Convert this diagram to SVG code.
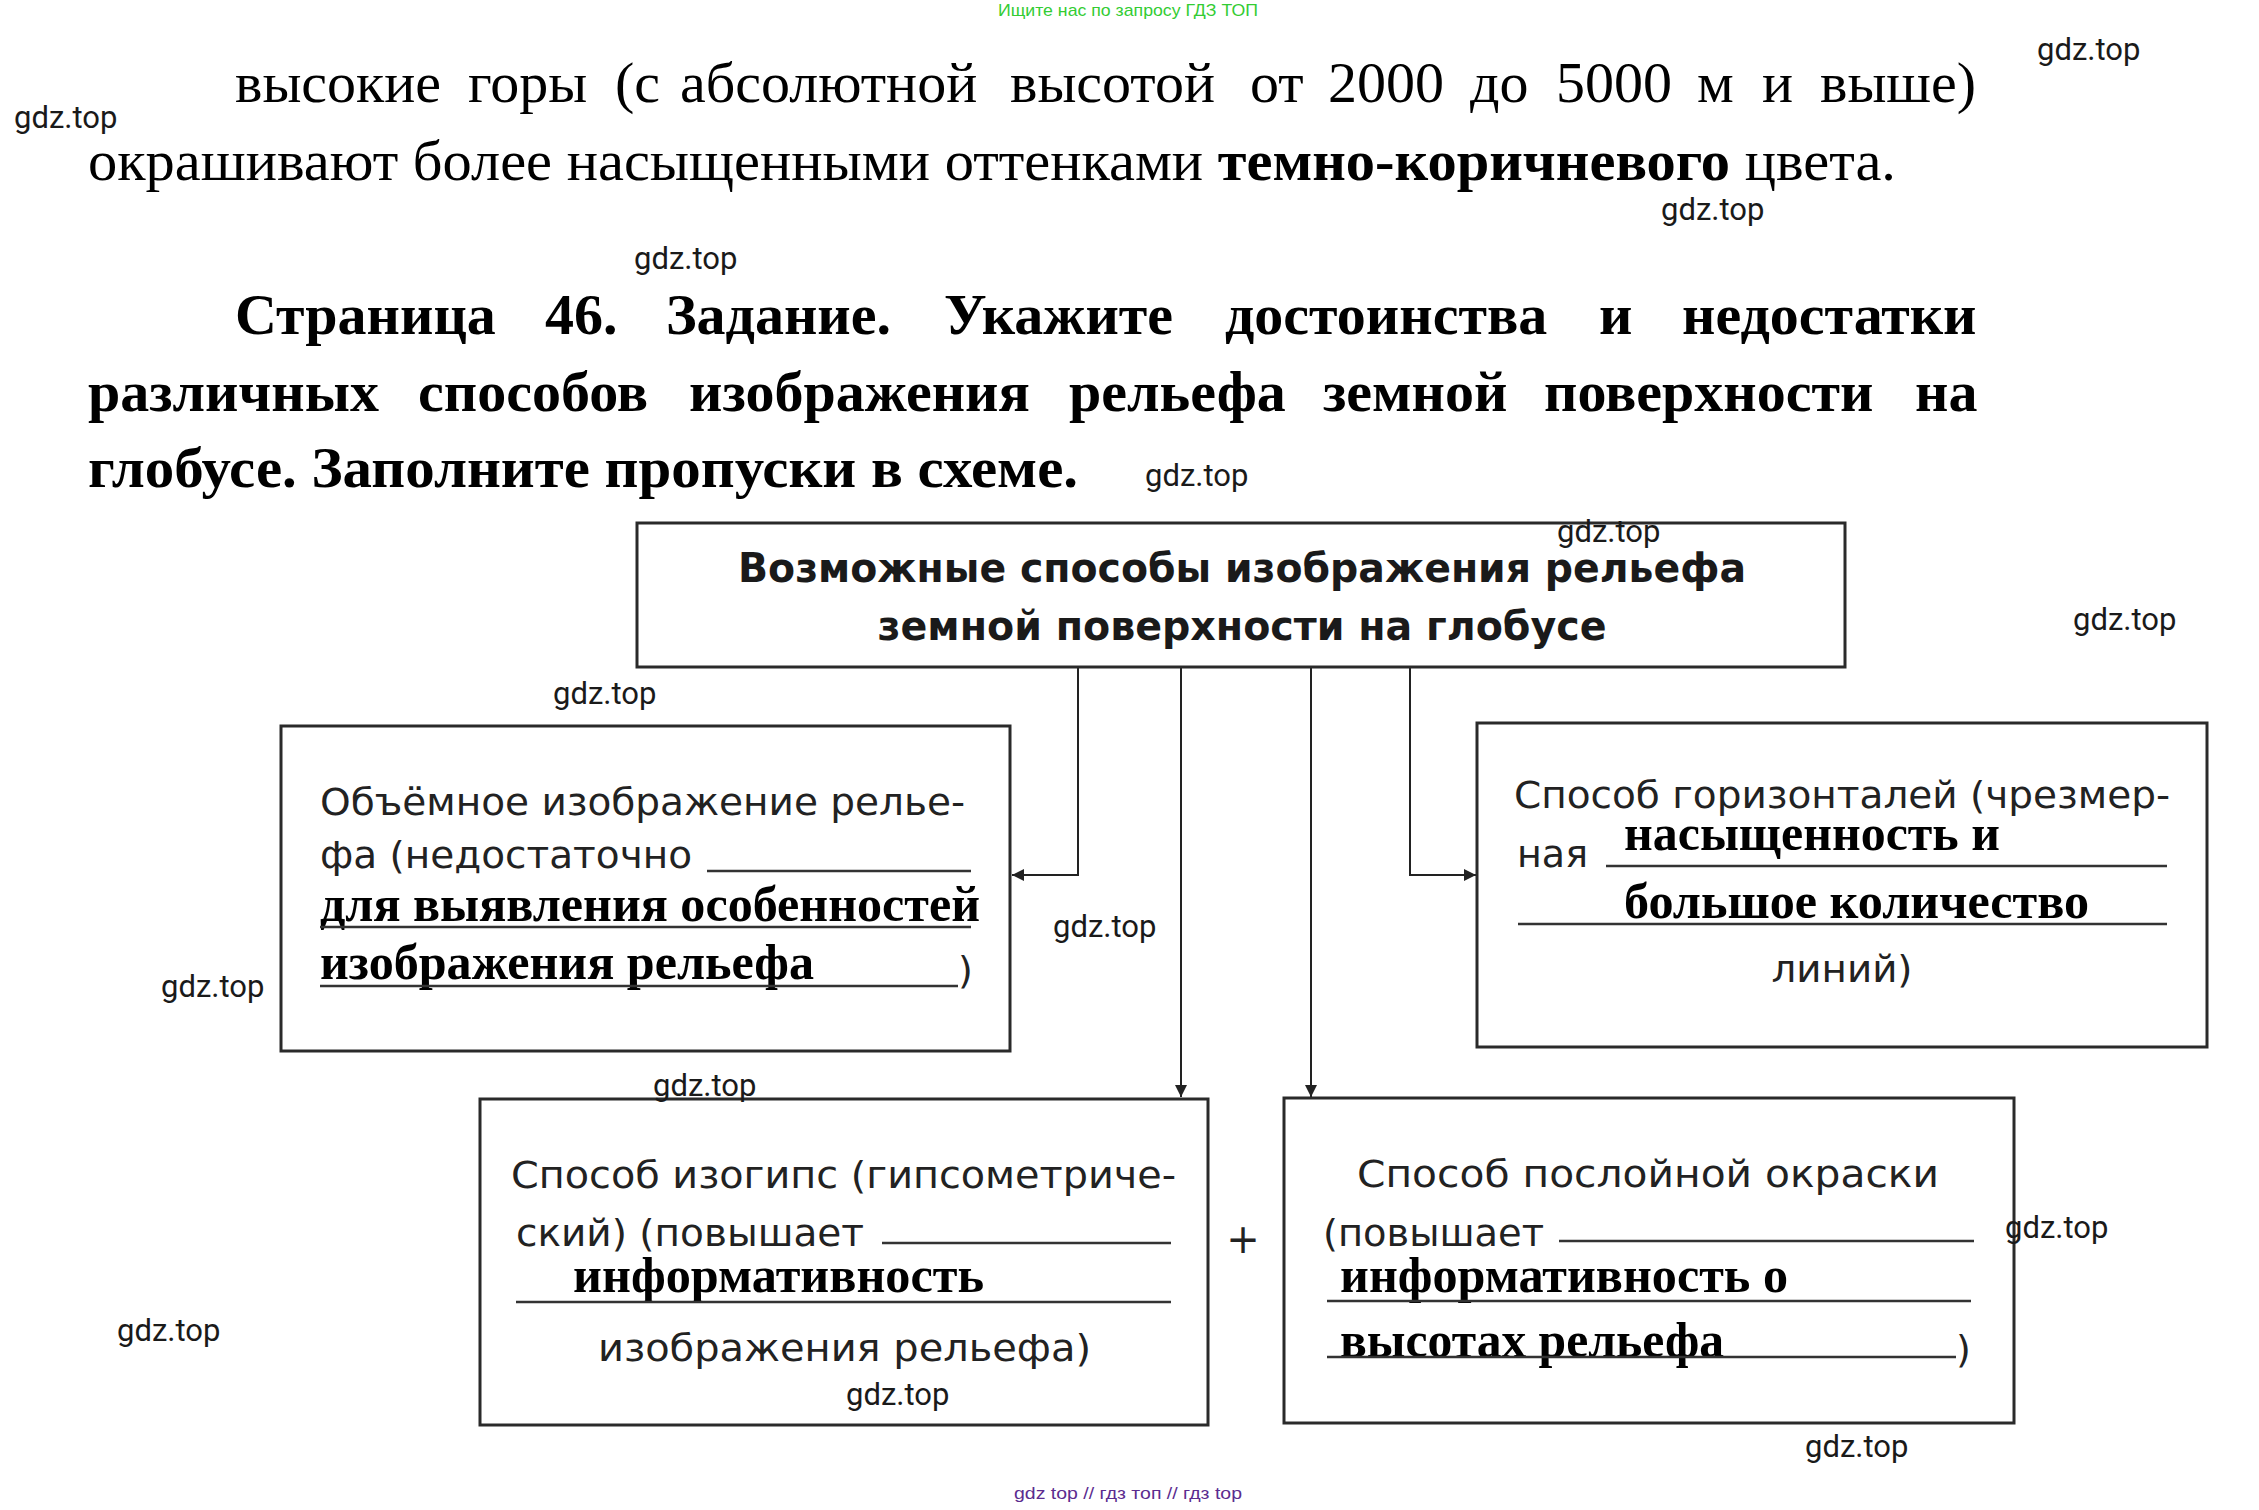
<svg xmlns="http://www.w3.org/2000/svg" width="2259" height="1510" viewBox="0 0 2259 1510">
<style>
.body{font-family:"Liberation Serif","Times New Roman",serif;font-size:58px;fill:#000}
.head{font-family:"Liberation Serif","Times New Roman",serif;font-size:58px;font-weight:bold;fill:#000}
.wm{font-family:Roboto,"Liberation Sans",sans-serif;font-size:31px;fill:#1a1a1a}
.box{fill:#fff;stroke:#2a2a2a;stroke-width:3}
.title{font-family:"DejaVu Sans","Liberation Sans",sans-serif;font-size:40px;font-weight:bold;fill:#1a1a1a}
.lbl{font-family:"DejaVu Sans","Liberation Sans",sans-serif;font-size:38px;fill:#222}
.ans{font-family:"Liberation Serif","Times New Roman",serif;font-size:50px;font-weight:bold;fill:#000}
.ul{stroke:#333;stroke-width:2.5;fill:none}
.conn{stroke:#222;stroke-width:2;fill:none}
</style>
<defs>
<marker id="arr" viewBox="0 0 10 10" refX="10" refY="5" markerWidth="16" markerHeight="12" markerUnits="userSpaceOnUse" orient="auto">
<path d="M0,0 L10,5 L0,10 z" fill="#222"/>
</marker>
</defs>
<rect width="2259" height="1510" fill="#fff"/>

<text x="1128" y="16" font-family="'Liberation Sans',sans-serif" font-size="17" fill="#33cc33" text-anchor="middle" textLength="260" lengthAdjust="spacingAndGlyphs">Ищите нас по запросу ГДЗ ТОП</text>

<g id="paragraph">
<text class="body" y="102"><tspan x="235">высокие</tspan><tspan x="468">горы</tspan><tspan x="615">(с</tspan><tspan x="680">абсолютной</tspan><tspan x="1010">высотой</tspan><tspan x="1250">от</tspan><tspan x="1328">2000</tspan><tspan x="1470">до</tspan><tspan x="1556">5000</tspan><tspan x="1697">м</tspan><tspan x="1762">и</tspan><tspan x="1820">выше)</tspan></text>
<text class="body" x="88" y="180" textLength="1808" lengthAdjust="spacingAndGlyphs">окрашивают более насыщенными оттенками <tspan font-weight="bold">темно-коричневого</tspan> цвета.</text>
</g>

<g id="heading">
<text class="head" y="334"><tspan x="235">Страница</tspan><tspan x="545">46.</tspan><tspan x="666">Задание.</tspan><tspan x="944">Укажите</tspan><tspan x="1225">достоинства</tspan><tspan x="1599">и</tspan><tspan x="1682">недостатки</tspan></text>
<text class="head" y="411"><tspan x="88">различных</tspan><tspan x="418">способов</tspan><tspan x="689">изображения</tspan><tspan x="1069">рельефа</tspan><tspan x="1323">земной</tspan><tspan x="1544">поверхности</tspan><tspan x="1915">на</tspan></text>
<text class="head" x="88" y="487" textLength="990" lengthAdjust="spacingAndGlyphs">глобусе. Заполните пропуски в схеме.</text>
</g>

<g id="connectors">
<path class="conn" d="M1078,667 V875 H1012" marker-end="url(#arr)"/>
<path class="conn" d="M1181,667 V1097" marker-end="url(#arr)"/>
<path class="conn" d="M1311,667 V1097" marker-end="url(#arr)"/>
<path class="conn" d="M1410,667 V875 H1476" marker-end="url(#arr)"/>
</g>

<g id="node-top">
<rect class="box" x="637" y="523" width="1208" height="144"/>
<text class="title" x="1242" y="582" text-anchor="middle" textLength="1008" lengthAdjust="spacingAndGlyphs">Возможные способы изображения рельефа</text>
<text class="title" x="1242" y="640" text-anchor="middle" textLength="729" lengthAdjust="spacingAndGlyphs">земной поверхности на глобусе</text>
</g>

<g id="node-left">
<rect class="box" x="281" y="726" width="729" height="325"/>
<text class="lbl" x="320" y="815" textLength="645" lengthAdjust="spacingAndGlyphs">Объёмное изображение релье-</text>
<text class="lbl" x="320" y="868" textLength="372" lengthAdjust="spacingAndGlyphs">фа (недостаточно</text>
<line class="ul" x1="707" y1="871" x2="971" y2="871"/>
<text class="ans" x="320" y="921" textLength="660" lengthAdjust="spacingAndGlyphs">для выявления особенностей</text>
<line class="ul" x1="320" y1="927" x2="971" y2="927"/>
<text class="ans" x="320" y="979" textLength="494" lengthAdjust="spacingAndGlyphs">изображения рельефа</text>
<line class="ul" x1="320" y1="986" x2="958" y2="986"/>
<text class="lbl" x="958" y="983">)</text>
</g>

<g id="node-right">
<rect class="box" x="1477" y="723" width="730" height="324"/>
<text class="lbl" x="1514" y="808" textLength="656" lengthAdjust="spacingAndGlyphs">Способ горизонталей (чрезмер-</text>
<text class="lbl" x="1517" y="867" textLength="71" lengthAdjust="spacingAndGlyphs">ная</text>
<text class="ans" x="1624" y="850" textLength="376" lengthAdjust="spacingAndGlyphs">насыщенность и</text>
<line class="ul" x1="1606" y1="866" x2="2167" y2="866"/>
<text class="ans" x="1624" y="918" textLength="465" lengthAdjust="spacingAndGlyphs">большое количество</text>
<line class="ul" x1="1518" y1="924" x2="2167" y2="924"/>
<text class="lbl" x="1842" y="982" text-anchor="middle" textLength="141" lengthAdjust="spacingAndGlyphs">линий)</text>
</g>

<g id="node-isohypse">
<rect class="box" x="480" y="1099" width="728" height="326"/>
<text class="lbl" x="511" y="1188" textLength="665" lengthAdjust="spacingAndGlyphs">Способ изогипс (гипсометриче-</text>
<text class="lbl" x="516" y="1246" textLength="348" lengthAdjust="spacingAndGlyphs">ский) (повышает</text>
<line class="ul" x1="882" y1="1243" x2="1171" y2="1243"/>
<text class="ans" x="573" y="1292" textLength="411" lengthAdjust="spacingAndGlyphs">информативность</text>
<line class="ul" x1="516" y1="1302" x2="1171" y2="1302"/>
<text class="lbl" x="598" y="1361" textLength="493" lengthAdjust="spacingAndGlyphs">изображения рельефа)</text>
</g>

<text x="1243" y="1253" font-family="'DejaVu Sans',sans-serif" font-size="40" fill="#222" text-anchor="middle">+</text>

<g id="node-layer">
<rect class="box" x="1284" y="1098" width="730" height="325"/>
<text class="lbl" x="1357" y="1187" textLength="582" lengthAdjust="spacingAndGlyphs">Способ послойной окраски</text>
<text class="lbl" x="1323" y="1246" textLength="221" lengthAdjust="spacingAndGlyphs">(повышает</text>
<line class="ul" x1="1559" y1="1241" x2="1974" y2="1241"/>
<text class="ans" x="1340" y="1292" textLength="448" lengthAdjust="spacingAndGlyphs">информативность о</text>
<line class="ul" x1="1327" y1="1301" x2="1971" y2="1301"/>
<text class="ans" x="1340" y="1357" textLength="384" lengthAdjust="spacingAndGlyphs">высотах рельефа</text>
<line class="ul" x1="1327" y1="1357" x2="1956" y2="1357"/>
<text class="lbl" x="1956" y="1362">)</text>
</g>

<g id="watermarks">
<text class="wm" x="2037" y="60">gdz.top</text>
<text class="wm" x="14" y="128">gdz.top</text>
<text class="wm" x="1661" y="220">gdz.top</text>
<text class="wm" x="634" y="269">gdz.top</text>
<text class="wm" x="1145" y="486">gdz.top</text>
<text class="wm" x="1557" y="542">gdz.top</text>
<text class="wm" x="2073" y="630">gdz.top</text>
<text class="wm" x="553" y="704">gdz.top</text>
<text class="wm" x="1053" y="937">gdz.top</text>
<text class="wm" x="161" y="997">gdz.top</text>
<text class="wm" x="653" y="1096">gdz.top</text>
<text class="wm" x="2005" y="1238">gdz.top</text>
<text class="wm" x="117" y="1341">gdz.top</text>
<text class="wm" x="846" y="1405">gdz.top</text>
<text class="wm" x="1805" y="1457">gdz.top</text>
</g>

<text x="1128" y="1499" font-family="'Liberation Sans',sans-serif" font-size="16" fill="#5b2c8f" text-anchor="middle" textLength="228" lengthAdjust="spacingAndGlyphs">gdz top // гдз топ // гдз top</text>
</svg>
